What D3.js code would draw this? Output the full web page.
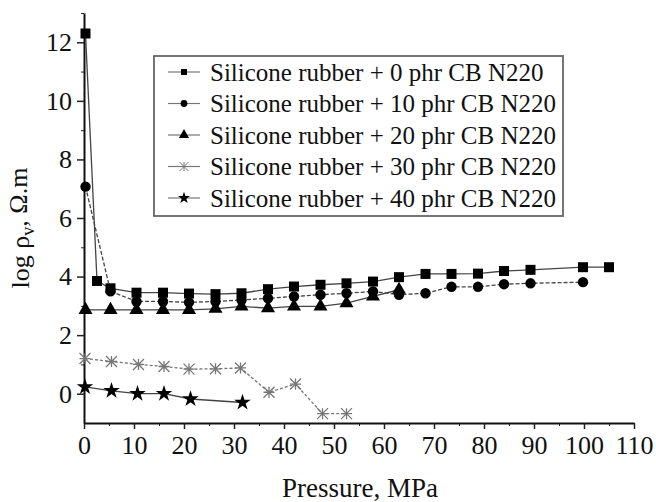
<!DOCTYPE html>
<html>
<head>
<meta charset="utf-8">
<script src="https://cdn.jsdelivr.net/npm/d3@7"></script>
</head>
<body style="margin:0;background:#fff">
<div id="chart"></div>
<script>
// Legend labels
var seriesNames = [
  "Silicone rubber + 0 phr CB N220",
  "Silicone rubber + 10 phr CB N220",
  "Silicone rubber + 20 phr CB N220",
  "Silicone rubber + 30 phr CB N220",
  "Silicone rubber + 40 phr CB N220"
];

// Pressure (MPa) and log resistivity for each filler loading
var pressure0 = [0.3, 2.6, 5.3, 10.5, 15.8, 21, 26.3, 31.5, 36.8, 42, 47.3, 52.5, 57.8, 63, 68.3, 73.5, 78.8, 84, 89.3, 99.8, 105];
var logRho0   = [12.3, 3.85, 3.6, 3.45, 3.45, 3.42, 3.4, 3.43, 3.57, 3.66, 3.72, 3.77, 3.83, 3.98, 4.09, 4.09, 4.1, 4.19, 4.23, 4.32, 4.32];

var pressure10 = [0.3, 5.3, 10.5, 15.8, 21, 26.3, 31.5, 36.8, 42, 47.3, 52.5, 57.8, 63, 68.3, 73.5, 78.8, 84, 89.3, 99.8];
var logRho10   = [7.07, 3.5, 3.15, 3.15, 3.12, 3.15, 3.2, 3.26, 3.32, 3.38, 3.43, 3.49, 3.38, 3.43, 3.65, 3.65, 3.74, 3.77, 3.81];

var pressure20 = [0.3, 5.3, 10.5, 15.8, 21, 26.3, 31.5, 36.8, 42, 47.3, 52.5, 57.8, 63];
var logRho20   = [2.86, 2.86, 2.86, 2.86, 2.86, 2.9, 2.98, 2.92, 2.98, 2.98, 3.09, 3.32, 3.55];

var pressure30 = [0.2, 5.5, 10.9, 16, 21, 26.3, 31.3, 37, 42.3, 47.7, 52.5];
var logRho30   = [1.2, 1.1, 1.0, 0.93, 0.84, 0.85, 0.88, 0.05, 0.33, -0.68, -0.68];

var pressure40 = [0.2, 5.5, 10.7, 16, 21.3, 31.7];
var logRho40   = [0.23, 0.1, 0.0, 0.0, -0.18, -0.3];

var xTicks = [0, 10, 20, 30, 40, 50, 60, 70, 80, 90, 100, 110];
var yTicks = [0, 2, 4, 6, 8, 10, 12];

var FONT = "Liberation Serif";

var svgWidth = 656;
var svgHeight = 502;
var margin = { top: 13, right: 22, bottom: 79, left: 84 };
var width = svgWidth - margin.left - margin.right;
var height = svgHeight - margin.top - margin.bottom;

var svg = d3.select("#chart")
  .append("svg")
  .attr("width", svgWidth)
  .attr("height", svgHeight);

var chartGroup = svg.append("g")
  .attr("transform", `translate(${margin.left}, ${margin.top})`);

var xScale = d3.scaleLinear().domain([0, 110]).range([0, width]);
var yScale = d3.scaleLinear().domain([-1, 13]).range([height, 0]);

// minor ticks first, then major axes on top
chartGroup.append("g")
  .attr("transform", `translate(0, ${height})`)
  .call(d3.axisBottom(xScale).tickValues(d3.range(5, 110, 10)).tickSize(3).tickFormat(""))
  .call(g => g.select(".domain").remove());
chartGroup.append("g")
  .call(d3.axisLeft(yScale).tickValues(d3.range(1, 14, 2)).tickSize(3).tickFormat(""))
  .call(g => g.select(".domain").remove());

var xAxis = chartGroup.append("g")
  .attr("transform", `translate(0, ${height})`)
  .call(d3.axisBottom(xScale).tickValues(xTicks).tickSize(6).tickSizeOuter(0).tickPadding(7));
var yAxis = chartGroup.append("g")
  .call(d3.axisLeft(yScale).tickValues(yTicks).tickSize(7).tickSizeOuter(0).tickPadding(5));

[xAxis, yAxis].forEach(function(g) {
  g.attr("font-family", FONT).attr("font-size", 26);
  g.select(".domain").attr("stroke-width", 2).attr("stroke", "#111");
  g.selectAll(".tick line").attr("stroke-width", 1.5);
  g.selectAll(".tick text").attr("font-family", FONT).attr("font-size", 26).attr("fill", "#111");
});
chartGroup.selectAll(".tick line").attr("stroke", "#222");

// marker shapes
function asterisk(r) {
  return `M0,${-r}V${r}M${-r},${-r}L${r},${r}M${-r},${r}L${r},${-r}M${-r},0H${r}`;
}
var markers = [
  { path: d3.symbol().type(d3.symbolSquare).size(100)(), fill: "#000", stroke: "none", lpath: d3.symbol().type(d3.symbolSquare).size(36)() },
  { path: d3.symbol().type(d3.symbolCircle).size(85)(), fill: "#000", stroke: "none", lpath: d3.symbol().type(d3.symbolCircle).size(36)() },
  { path: d3.symbol().type(d3.symbolTriangle).size(85)(), fill: "#000", stroke: "none", lpath: d3.symbol().type(d3.symbolTriangle).size(45)() },
  { path: asterisk(5.5), fill: "none", stroke: "#777", lpath: asterisk(4.5) },
  { path: d3.symbol().type(d3.symbolStar).size(85)(), fill: "#000", stroke: "none", lpath: d3.symbol().type(d3.symbolStar).size(45)() }
];

var series = [
  { xs: pressure0, ys: logRho0, dash: null },
  { xs: pressure10, ys: logRho10, dash: "4,2" },
  { xs: pressure20, ys: logRho20, dash: null },
  { xs: pressure30, ys: logRho30, dash: "3,2" },
  { xs: pressure40, ys: logRho40, dash: null }
];

var line = d3.line()
  .x(d => xScale(d[0]))
  .y(d => yScale(d[1]));

series.forEach(function(s, i) {
  var pts = s.xs.map((v, j) => [v, s.ys[j]]);
  chartGroup.append("path")
    .datum(pts)
    .attr("d", line)
    .attr("fill", "none")
    .attr("stroke", i == 3 ? "#777" : "#444")
    .attr("stroke-width", 1.3)
    .attr("stroke-dasharray", s.dash);
  chartGroup.selectAll(".m" + i)
    .data(pts)
    .enter()
    .append("path")
    .attr("class", "m" + i)
    .attr("transform", d => `translate(${xScale(d[0])}, ${yScale(d[1])})`)
    .attr("d", markers[i].path)
    .attr("fill", markers[i].fill)
    .attr("stroke", markers[i].stroke)
    .attr("stroke-width", 1.3);
});

// legend
var legend = svg.append("g");
legend.append("rect")
  .attr("x", 154).attr("y", 56)
  .attr("width", 409).attr("height", 160)
  .attr("fill", "#fff")
  .attr("stroke", "#666")
  .attr("stroke-width", 1.8);

seriesNames.forEach(function(name, i) {
  var ly = 72 + i * 31.5;
  legend.append("line")
    .attr("x1", 168).attr("x2", 200)
    .attr("y1", ly).attr("y2", ly)
    .attr("stroke", "#777").attr("stroke-width", 1.2);
  legend.append("path")
    .attr("transform", `translate(184, ${ly})`)
    .attr("d", markers[i].lpath)
    .attr("fill", markers[i].fill)
    .attr("stroke", markers[i].stroke)
    .attr("stroke-width", 1);
  legend.append("text")
    .attr("x", 210).attr("y", ly)
    .attr("dy", "0.35em")
    .attr("font-family", FONT)
    .attr("font-size", 25)
    .attr("fill", "#111")
    .text(name);
});

// axis titles
svg.append("text")
  .attr("x", 360).attr("y", 497)
  .attr("text-anchor", "middle")
  .attr("font-family", FONT)
  .attr("font-size", 27)
  .attr("fill", "#111")
  .text("Pressure, MPa");

var yTitle = svg.append("text")
  .attr("transform", "translate(29, 228) rotate(-90)")
  .attr("text-anchor", "middle")
  .attr("font-family", FONT)
  .attr("font-size", 26)
  .attr("fill", "#111");
yTitle.append("tspan").text("log \u03C1");
yTitle.append("tspan").attr("dy", "0.3em").attr("font-size", 18).text("v");
yTitle.append("tspan").attr("dy", "-0.3em").text(", \u03A9.m");
</script>
</body>
</html>
